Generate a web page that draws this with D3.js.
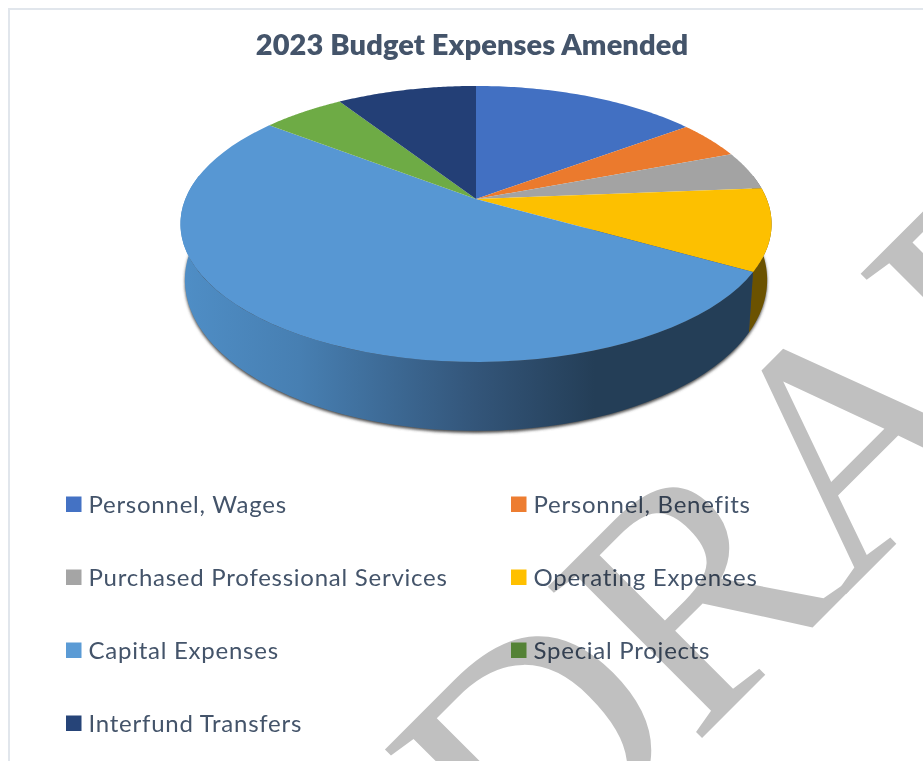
<!DOCTYPE html>
<html><head><meta charset="utf-8">
<style>html,body{margin:0;padding:0;background:#fff}svg{display:block}</style>
<script src="https://cdn.jsdelivr.net/npm/d3@7"></script></head>
<body><div id="chart"></div>
<script>
const categories=["Personnel, Wages","Personnel, Benefits","Purchased Professional Services","Operating Expenses","Capital Expenses","Special Projects","Interfund Transfers"];
const shares=[14.8,4.4,4.5,9.6,52.2,5.4,9.1];
const colors=["#4270c2","#eb7a2d","#a3a3a3","#fdc000","#5797d3","#6eab45","#233f76"];
const legendColors=["#4472c4","#ed7d31","#a5a5a5","#ffc000","#5b9bd5","#70ad47","#264478"];
const wallDark=["#2a4576","#8f4c1d","#646464","#6b5200","#243e57","#44692b","#172a49"];
const titleText="2023 Budget Expenses Amended";
const watermark="DRAFT";

const W=923,H=761;
const svg=d3.select("#chart").append("svg").attr("width",W).attr("height",H);
const defs=svg.append("defs");
defs.append("filter").attr("id","blur").attr("x","-10%").attr("y","-10%").attr("width","120%").attr("height","120%")
  .append("feGaussianBlur").attr("stdDeviation",1.6);
const grad=defs.append("linearGradient").attr("id","wallGrad").attr("gradientUnits","userSpaceOnUse")
  .attr("x1",181).attr("x2",772).attr("y1",0).attr("y2",0);
[[0,"#4f8ec6"],[0.2,"#477fb2"],[0.5,"#335579"],[0.7,"#243e57"],[1,"#243e57"]].forEach(s=>grad.append("stop").attr("offset",s[0]).attr("stop-color",s[1]));

svg.append("rect").attr("x",9).attr("y",9).attr("width",W+40).attr("height",H+40)
  .attr("fill","#fff").attr("stroke","#e1e6ec").attr("stroke-width",2);

svg.append("text").attr("x",472).attr("y",55).attr("text-anchor","middle")
  .attr("font-family","Lato,sans-serif").attr("font-weight",800).attr("font-size",29)
  .attr("letter-spacing",0.1).attr("fill","#44546a").text(titleText);

// projective view of a tilted disc
const cx=476,cy=199,a=290.7,b=133.5,k=0.181;
const scaleX=0.985,scaleY=1.094,drop=53.6;
function project(theta,level){
  const u=Math.sin(theta),v=-Math.cos(theta),w=1-k*v;
  return level?[cx+scaleX*a*u/w,cy+drop+scaleY*b*v/w]:[cx+a*u/w,cy+b*v/w];
}
const line=d3.line();
const arcs=d3.pie().sort(null)(shares);
const samples=(t0,t1)=>d3.range(0,61).map(i=>t0+(t1-t0)*i/60);
const rightLimit=Math.acos(k),leftLimit=Math.PI*2-rightLimit;
const wall=(t0,t1)=>{
  const s0=Math.max(t0,rightLimit),s1=Math.min(t1,leftLimit);
  if(s1<=s0) return null;
  const ts=samples(s0,s1);
  return line(ts.map(t=>project(t,0)).concat(ts.slice().reverse().map(t=>project(t,1))))+"Z";
};
svg.append("path").attr("d",line(samples(rightLimit,leftLimit).map(t=>project(t,1)))+"Z").attr("transform","translate(0,2)")
  .attr("fill","#4a4a4a").attr("filter","url(#blur)");
const g=svg.append("g");
g.selectAll("path.wall").data(arcs).join("path").attr("class","wall")
  .attr("d",d=>wall(d.startAngle,d.endAngle))
  .attr("fill",d=>d.index===4?"url(#wallGrad)":wallDark[d.index]);
g.selectAll("path.top").data(arcs).join("path").attr("class","top")
  .attr("d",d=>line([[cx,cy]].concat(samples(d.startAngle,d.endAngle).map(t=>project(t,0))))+"Z")
  .attr("fill",d=>colors[d.index]);

// legend
const legendX=d3.scalePoint().domain([0,1]).range([66,511]);
const legendY=d3.scalePoint().domain([0,1,2,3]).range([504.5,723.5]);
const leg=svg.append("g").selectAll("g").data(categories).join("g")
  .attr("transform",(d,i)=>`translate(${legendX(i%2)},${legendY(Math.floor(i/2))})`);
leg.append("rect").attr("x",0).attr("y",-8).attr("width",15.5).attr("height",15.5).attr("fill",(d,i)=>legendColors[i]);
leg.append("text").attr("x",22.5).attr("y",8.5).attr("font-family","Lato,sans-serif").attr("font-size",24)
  .attr("letter-spacing",0.75).attr("fill","#44546a").text(d=>d);

// watermark on top, multiplying
svg.append("text").attr("transform","translate(531,909) rotate(-45)")
  .attr("font-family","'Liberation Serif',serif").attr("font-size",330).attr("letter-spacing",-8).attr("fill","#c0c0c0")
  .style("mix-blend-mode","multiply").text(watermark);
</script></body></html>
